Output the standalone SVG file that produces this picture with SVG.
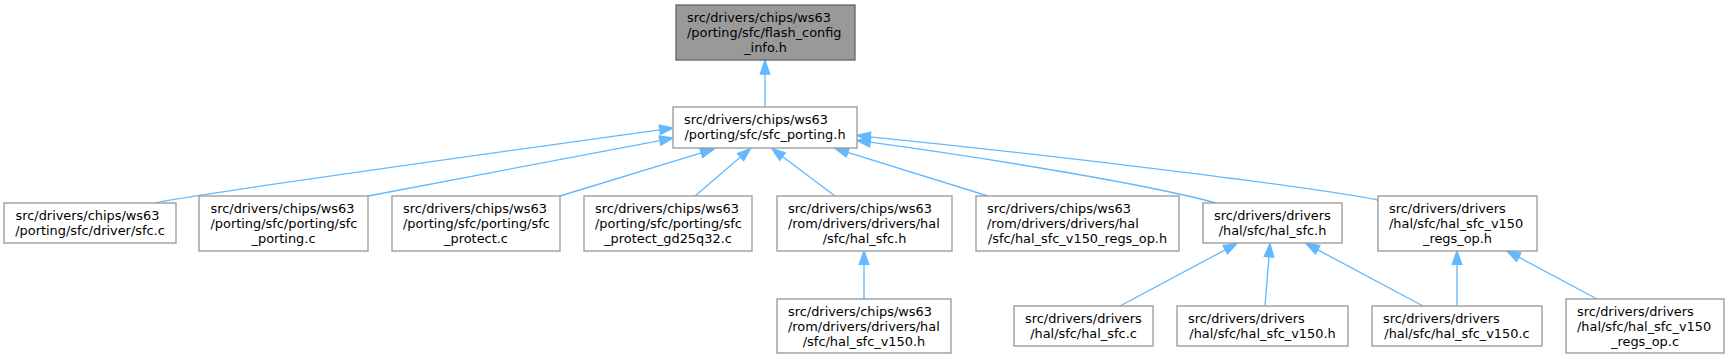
<svg xmlns="http://www.w3.org/2000/svg" width="1730" height="359" viewBox="0 0 1730 359">
<style>
.n rect{fill:#ffffff;stroke:#999999;stroke-width:1.33}
.n.cur rect{fill:#999999;stroke:#666666}
text{font-family:"DejaVu Sans",sans-serif;font-size:12.9px;fill:#000000}
.m{text-anchor:middle}
.e path{fill:none;stroke:#63b8ff;stroke-width:1.33}
.e polygon{fill:#63b8ff;stroke:#63b8ff;stroke-width:1.33}
</style>
<rect width="1730" height="359" fill="#ffffff"/>
<g id="edges" class="e">
<path d="M765,107 L765,74"/><polygon points="765,60 760.3,74 769.7,74"/>
<path d="M155,203 C190,195 420,163 659.8,129.8"/><polygon points="673,128 659.2,125.2 660.5,134.5"/>
<path d="M368,196 L660,140.6"/><polygon points="673,138 659.1,136 660.9,145.2"/>
<path d="M560,196 L701.3,152.9"/><polygon points="714,149 699.9,148.4 702.7,157.4"/>
<path d="M695,196 L740.5,157.1"/><polygon points="750.6,148.5 737.5,153.5 743.6,160.7"/>
<path d="M835,196 L782.4,156.5"/><polygon points="771.8,148.5 779.6,160.3 785.2,152.8"/>
<path d="M988,196 L847.7,152.4"/><polygon points="835,148.5 846.3,156.9 849.1,147.9"/>
<path d="M1216,203 C1150,185 1000,160 870.2,142.2"/><polygon points="857,140.5 870.8,137.6 869.6,146.9"/>
<path d="M1378,200 C1300,185 1050,155 870.2,136.9"/><polygon points="857,135.5 870.7,132.2 869.8,141.6"/>
<path d="M864,299 L864,264.3"/><polygon points="864,251 859.3,264.3 868.7,264.3"/>
<path d="M1120,306 L1225.3,249.8"/><polygon points="1237,243.5 1223.1,245.6 1227.5,253.9"/>
<path d="M1265,306 L1269,256.8"/><polygon points="1270,243.5 1264.3,256.4 1273.7,257.2"/>
<path d="M1423,306 L1317.7,249.8"/><polygon points="1306,243.5 1315.5,254 1319.9,245.6"/>
<path d="M1457,306 L1457,264.3"/><polygon points="1457,251 1452.3,264.3 1461.7,264.3"/>
<path d="M1597,299 L1518.7,257.2"/><polygon points="1507,251 1516.5,261.4 1520.9,253"/>
</g>
<g id="node_T" class="n cur"><rect x="676" y="5" width="179" height="55"/><text x="687" y="21.5">src/drivers/chips/ws63</text><text x="687" y="36.5">/porting/sfc/flash_config</text><text class="m" x="765.5" y="51.5">_info.h</text></g>
<g id="node_S" class="n"><rect x="673" y="107" width="184" height="41"/><text x="684" y="123.5">src/drivers/chips/ws63</text><text class="m" x="765" y="138.5">/porting/sfc/sfc_porting.h</text></g>
<g id="node_A" class="n"><rect x="4" y="203" width="172" height="40"/><text x="15.5" y="219.5">src/drivers/chips/ws63</text><text class="m" x="90" y="234.5">/porting/sfc/driver/sfc.c</text></g>
<g id="node_B" class="n"><rect x="199" y="196" width="169" height="55"/><text x="210.5" y="212.5">src/drivers/chips/ws63</text><text x="210.5" y="227.5">/porting/sfc/porting/sfc</text><text class="m" x="283.5" y="242.5">_porting.c</text></g>
<g id="node_C" class="n"><rect x="392" y="196" width="168" height="55"/><text x="403" y="212.5">src/drivers/chips/ws63</text><text x="403" y="227.5">/porting/sfc/porting/sfc</text><text class="m" x="476" y="242.5">_protect.c</text></g>
<g id="node_D" class="n"><rect x="584" y="196" width="168" height="55"/><text x="595" y="212.5">src/drivers/chips/ws63</text><text x="595" y="227.5">/porting/sfc/porting/sfc</text><text class="m" x="668" y="242.5">_protect_gd25q32.c</text></g>
<g id="node_E" class="n"><rect x="777" y="196" width="175" height="55"/><text x="788" y="212.5">src/drivers/chips/ws63</text><text x="788" y="227.5">/rom/drivers/drivers/hal</text><text class="m" x="864.5" y="242.5">/sfc/hal_sfc.h</text></g>
<g id="node_F" class="n"><rect x="976" y="196" width="203" height="55"/><text x="987" y="212.5">src/drivers/chips/ws63</text><text x="987" y="227.5">/rom/drivers/drivers/hal</text><text class="m" x="1077.5" y="242.5">/sfc/hal_sfc_v150_regs_op.h</text></g>
<g id="node_G" class="n"><rect x="1203" y="203" width="139" height="40"/><text x="1214" y="219.5">src/drivers/drivers</text><text class="m" x="1272.5" y="234.5">/hal/sfc/hal_sfc.h</text></g>
<g id="node_H" class="n"><rect x="1378" y="196" width="159" height="55"/><text x="1389" y="212.5">src/drivers/drivers</text><text x="1389" y="227.5">/hal/sfc/hal_sfc_v150</text><text class="m" x="1457.5" y="242.5">_regs_op.h</text></g>
<g id="node_I" class="n"><rect x="777" y="299" width="174" height="54"/><text x="788" y="315.5">src/drivers/chips/ws63</text><text x="788" y="330.5">/rom/drivers/drivers/hal</text><text class="m" x="864" y="345.5">/sfc/hal_sfc_v150.h</text></g>
<g id="node_J" class="n"><rect x="1014" y="306" width="139" height="40"/><text x="1025" y="322.5">src/drivers/drivers</text><text class="m" x="1083.5" y="337.5">/hal/sfc/hal_sfc.c</text></g>
<g id="node_K" class="n"><rect x="1177" y="306" width="171" height="40"/><text x="1188" y="322.5">src/drivers/drivers</text><text class="m" x="1262.5" y="337.5">/hal/sfc/hal_sfc_v150.h</text></g>
<g id="node_L" class="n"><rect x="1372" y="306" width="170" height="40"/><text x="1383" y="322.5">src/drivers/drivers</text><text class="m" x="1457" y="337.5">/hal/sfc/hal_sfc_v150.c</text></g>
<g id="node_M" class="n"><rect x="1566" y="299" width="158" height="54"/><text x="1577" y="315.5">src/drivers/drivers</text><text x="1577" y="330.5">/hal/sfc/hal_sfc_v150</text><text class="m" x="1645" y="345.5">_regs_op.c</text></g>
</svg>
